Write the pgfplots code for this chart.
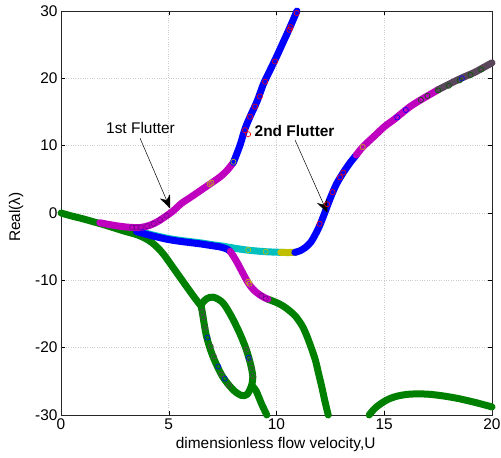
\documentclass[border=0pt]{standalone}
\usepackage{fontspec}
\setmainfont{Liberation Sans}
\usepackage{pgfplots}
\pgfplotsset{compat=1.18}
\usetikzlibrary{arrows.meta}
\definecolor{mgreen}{RGB}{0,128,0}
\definecolor{mmag}{RGB}{191,0,191}
\definecolor{mcyan}{RGB}{0,191,191}
\definecolor{myel}{RGB}{191,191,0}
\definecolor{mgray}{RGB}{90,70,90}
\definecolor{mpurp}{RGB}{110,0,140}
\begin{document}
\begin{tikzpicture}
\path[use as bounding box] (-61bp,-43bp) rectangle (440bp,415bp);
\begin{axis}[
  at={(0,0)}, anchor=south west,
  scale only axis, width=431bp, height=404bp,
  xmin=0, xmax=20, ymin=-30, ymax=30,
  xtick={0,5,10,15,20}, ytick={-30,-20,...,30},
  grid=major, grid style={dotted, gray!40, line width=0.8pt},
  clip=false,
  font=\fontsize{15.5}{18}\selectfont,
  /pgf/number format/assume math mode=true,
  tick style={black, line width=0.5pt}, major tick length=4bp,
  axis line style={line width=0.6pt, black!85},
  xlabel={dimensionless flow velocity,U},
  ylabel={Real(λ)},
  every axis x label/.style={at={(axis description cs:0.498,-0.072)}, anchor=center},
  every axis y label/.style={at={(axis description cs:-0.104,0.49)}, rotate=90, anchor=center},
  curve/.style={line width=7bp, line cap=round, line join=round, smooth, tension=0.5},
  circ/.style={only marks, mark=o, mark size=2.6bp, mark options={line width=0.6pt}},
]
% green curves
\addplot[curve, mgreen] coordinates {(0,0) (0.5,-0.45) (1,-0.85) (1.5,-1.3) (2,-1.75) (2.5,-2.25) (3,-2.75) (3.5,-3.2) (3.9,-3.75) (4.2,-4.35) (4.5,-5.2) (4.8,-6.3) (5.2,-8.1) (5.6,-9.9) (6.0,-11.7) (6.3,-13.0) (6.5,-13.8)};
\addplot[curve, mgreen] coordinates {(6.5,-13.8) (6.56,-14.8) (6.75,-18.3) (7.05,-21.3) (7.5,-24.3) (8.0,-26.3) (8.38,-27.1) (8.65,-26.9) (8.85,-25.6)};
\addplot[curve, mgreen] coordinates {(8.85,-25.6) (9.05,-26.4) (9.3,-28.3) (9.55,-30)};
\addplot[curve, mgreen] coordinates {(6.5,-13.6) (6.75,-12.75) (7.07,-12.5) (7.5,-13.3) (7.9,-15.3) (8.3,-17.9) (8.6,-20.3) (8.8,-22.5) (8.9,-24.3) (8.85,-25.6)};
\addplot[curve, mgreen] coordinates {(9.6,-12.8) (10,-13.3) (10.3,-13.8) (10.6,-14.5) (10.9,-15.4) (11.2,-16.8) (11.4,-18.2) (11.6,-19.9) (11.8,-21.8) (11.95,-23.8) (12.1,-25.8) (12.25,-28) (12.4,-30)};
\addplot[curve, mgreen] coordinates {(14.3,-30) (14.6,-28.9) (15.1,-27.8) (15.6,-27.2) (16.2,-26.9) (17.0,-26.9) (17.8,-27.2) (18.5,-27.6) (19.3,-28.2) (20,-28.8)};
% cyan / yellow branch
\addplot[curve, mcyan] coordinates {(3.6,-2.6) (4,-3.05) (4.5,-3.45) (5,-3.8) (5.5,-4.05) (6,-4.25) (6.5,-4.45) (7,-4.7) (7.5,-4.92) (8,-5.2) (8.5,-5.45) (9,-5.62) (9.5,-5.75) (10,-5.82) (10.3,-5.85)};
\addplot[curve, myel] coordinates {(10.2,-5.85) (10.5,-5.87) (10.9,-5.85)};
% blue lower branch into magenta
\addplot[curve, blue] coordinates {(3.5,-2.75) (4,-3.2) (4.5,-3.6) (5,-3.95) (5.5,-4.2) (6,-4.4) (6.5,-4.6) (7,-4.85) (7.4,-5.05) (7.7,-5.35) (7.85,-5.7)};
\addplot[curve, mmag] coordinates {(7.85,-5.7) (8.0,-6.4) (8.2,-7.5) (8.4,-8.7) (8.6,-9.9) (8.8,-10.9) (9.0,-11.6) (9.2,-12.1) (9.4,-12.5) (9.6,-12.8)};
% second flutter branch
\addplot[curve, blue] coordinates {(10.85,-5.85) (11.1,-5.6) (11.35,-5.1) (11.6,-4.3) (11.8,-3.2) (12.0,-1.9) (12.2,-0.3) (12.4,1.4) (12.6,3.0) (12.8,4.4) (13.1,6.0) (13.4,7.4) (13.7,8.6)};
\addplot[curve, mmag] coordinates {(13.7,8.6) (14.0,9.8) (14.5,11.3) (15.0,12.8) (15.5,14.0) (16.2,15.8) (16.8,17.0) (17.5,18.3)};
\addplot[curve, mgray] coordinates {(17.5,18.3) (17.8,18.8) (18.3,19.6) (18.7,20.2) (19.2,20.9) (19.6,21.6) (20,22.3)};
% first flutter branch
\addplot[curve, mmag] coordinates {(1.8,-1.45) (2.3,-1.75) (2.8,-2.0) (3.3,-2.15) (3.7,-2.15) (4.1,-1.85) (4.5,-1.25) (4.9,-0.4) (5.2,0.3) (5.6,1.45) (6.0,2.3) (6.5,3.4) (7.0,4.5) (7.4,5.4) (7.7,6.3) (8.0,7.5)};
\addplot[curve, blue] coordinates {(8.0,7.5) (8.3,10.0) (8.55,12.6) (8.8,14.5) (9.1,16.6) (9.4,19.2) (9.7,21.2) (10.0,23.2) (10.3,25.3) (10.6,27.4) (10.95,30)};
% circle markers
\addplot[circ, red] coordinates {(8.54,12.3) (8.68,11.7) (8.77,14.3) (9.0,15.8) (9.23,17.3) (9.47,19.5) (9.93,22.5) (10.6,27.2) (10.65,27.6) (10.94,29.7) (12.0,-1.6) (12.35,1.3) (12.6,3.1) (12.95,5.3) (13.1,6.0)};
\addplot[circ, myel] coordinates {(6.9,4.3) (6.98,4.5) (8.0,7.6) (8.69,-5.5) (9.5,-5.75) (10.2,-5.85) (10.35,-5.85) (10.45,-5.85) (8.69,-10.2) (8.75,-10.5) (14.0,9.8)};
\addplot[circ, mpurp] coordinates {(3.3,-2.15) (3.5,-2.15) (3.7,-2.15) (4.0,-1.95) (4.3,-1.6) (4.6,-1.05) (4.9,-0.4) (9.3,-12.3) (9.5,-12.7)};
\addplot[circ, blue] coordinates {(3.8,-2.85) (6.8,-18.5) (7.3,-22.8) (7.6,-24.6) (8.7,-21.5) (15.6,14.2) (16.0,15.3) (18.6,20.0)};
\addplot[circ, mgray] coordinates {(6.55,-14.7) (6.6,-15.5) (6.7,-17) (6.95,-19.8) (7.1,-21.3) (7.45,-24.0) (7.8,-25.6) (8.6,-20.3) (8.75,-21.8) (8.85,-23) (8.9,-24.2)};
\addplot[circ, mgreen!70!black] coordinates {(16.7,16.8) (17.0,17.4) (17.5,18.2) (18.0,18.9) (18.5,19.7) (19.0,20.5) (19.5,21.3)};
% annotations
\node[anchor=base] at (axis cs:3.69,11.83) {1st Flutter};
\draw[line width=0.5pt, -{Stealth[length=13bp,width=11bp]}] (axis cs:3.67,11.1) -- (axis cs:5.06,0.7);
\node[anchor=base, font=\fontsize{15.5}{18}\selectfont\bfseries] at (axis cs:10.84,11.33) {2nd Flutter};
\draw[line width=0.5pt, -{Stealth[length=13bp,width=11bp]}] (axis cs:10.86,10.84) -- (axis cs:12.36,0.04);
\end{axis}
\end{tikzpicture}
\end{document}
